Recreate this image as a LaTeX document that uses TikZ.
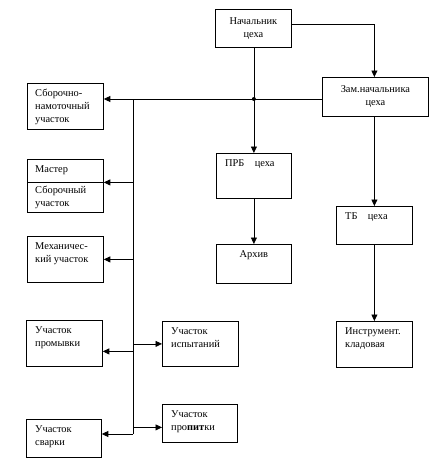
\documentclass[tikz,border=0pt]{standalone}
\usepackage{fontspec}
\setmainfont{Liberation Serif}
\usetikzlibrary{arrows.meta}
\tikzset{
	unit/.style={draw, line width=0.8pt, anchor=north west, inner sep=0pt},
	txt/.style={anchor=north west, inner sep=0pt, align=left, font=\fontsize{10.4}{13}\selectfont},
	link/.style={line width=0.8pt},
	arr/.style={line width=0.8pt, -{Triangle[length=6.5pt,width=6pt]}}
}
\begin{document}
\begin{tikzpicture}[x=1pt,y=-1pt]
		\useasboundingbox (0,0) rectangle (435,463);

		\node[unit, minimum width=76pt, minimum height=38pt] (nach) at (215,9) {};
		\node[unit, minimum width=106pt, minimum height=39pt] (zam) at (322,77) {};
		\node[unit, minimum width=76pt, minimum height=46pt] (sbor) at (27,83) {};
		\node[unit, minimum width=76pt, minimum height=53pt] (master) at (27,159) {};
		\node[unit, minimum width=76pt, minimum height=46pt] (mech) at (27,236) {};
		\node[unit, minimum width=76pt, minimum height=46pt] (prom) at (26,320) {};
		\node[unit, minimum width=75pt, minimum height=38pt] (svar) at (26,419) {};
		\node[unit, minimum width=76pt, minimum height=45pt] (isp) at (162,321) {};
		\node[unit, minimum width=75pt, minimum height=38pt] (prop) at (162,404) {};
		\node[unit, minimum width=75pt, minimum height=45pt] (prb) at (216,153) {};
		\node[unit, minimum width=75pt, minimum height=39pt] (arch) at (216,244) {};
		\node[unit, minimum width=76pt, minimum height=38pt] (tb) at (336,206) {};
		\node[unit, minimum width=76pt, minimum height=46pt] (instr) at (336,321) {};

		\node[txt, anchor=center, align=center] (nach-t) at (nach) {Начальник\\цеха};
		\node[txt, anchor=center, align=center] (zam-t) at (zam) {Зам.начальника\\цеха};
		\node[txt] (sbor-t) at ([shift={(8,6)}]sbor.north west) {Сборочно-\\намоточный\\участок};
		\node[txt, anchor=west] (master-t) at (35,170.5) {Мастер};
		\node[txt] (master-b) at (35,186) {Сборочный\\участок};
		\node[txt] (mech-t) at ([shift={(8,6)}]mech.north west) {Механичес-\\кий участок};
		\node[txt] (prom-t) at ([shift={(9,6)}]prom.north west) {Участок\\промывки};
		\node[txt] (svar-t) at ([shift={(9,6)}]svar.north west) {Участок\\сварки};
		\node[txt] (isp-t) at ([shift={(9,6)}]isp.north west) {Участок\\испытаний};
		\node[txt] (prop-t) at ([shift={(9,6)}]prop.north west) {Участок\\про\textbf{пит}ки};
		\node[txt] (prb-t) at ([shift={(9,6)}]prb.north west) {ПРБ\quad цеха};
		\node[txt, anchor=north] (arch-t) at ([yshift=-6pt]arch.north) {Архив};
		\node[txt] (tb-t) at ([shift={(9,6)}]tb.north west) {ТБ\quad цеха};
		\node[txt] (instr-t) at ([shift={(9,6)}]instr.north west) {Инструмент.\\кладовая};

		\coordinate (bustop) at (133,99);
		\coordinate (busbot) at (133,434);
		\coordinate (hub) at (prb.north |- bustop);

		\draw[link] ([yshift=3.5pt]master.west) -- ([yshift=3.5pt]master.east);

		\draw[arr] (prb.north |- nach.south) -- (prb.north);
		\draw[arr] ([yshift=4pt]nach.east) -| (tb.north |- zam.north);
		\draw[arr] (zam.west |- hub) -- (sbor.east |- hub);
		\fill (hub) circle (2);
		\draw[arr] (prb.south) -- (arch.north);
		\draw[arr] (tb.north |- zam.south) -- (tb.north);
		\draw[arr] (tb.south) -- (instr.north);

		\draw[link] (bustop) -- (busbot);
		\draw[arr] (bustop |- master.east) ++(0,-3.5) -- ([yshift=3.5pt]master.east);
		\draw[arr] (bustop |- mech.east) -- (mech.east);
		\draw[arr] (bustop |- prom.east) ++(0,8) -- ([yshift=-8pt]prom.east);
		\draw[arr] (bustop |- isp.west) -- (isp.west);
		\draw[arr] (busbot) -- (svar.east |- busbot);
		\draw[arr] (bustop |- prop.west) ++(0,4) -- ([yshift=-4pt]prop.west);
\end{tikzpicture}
\end{document}
